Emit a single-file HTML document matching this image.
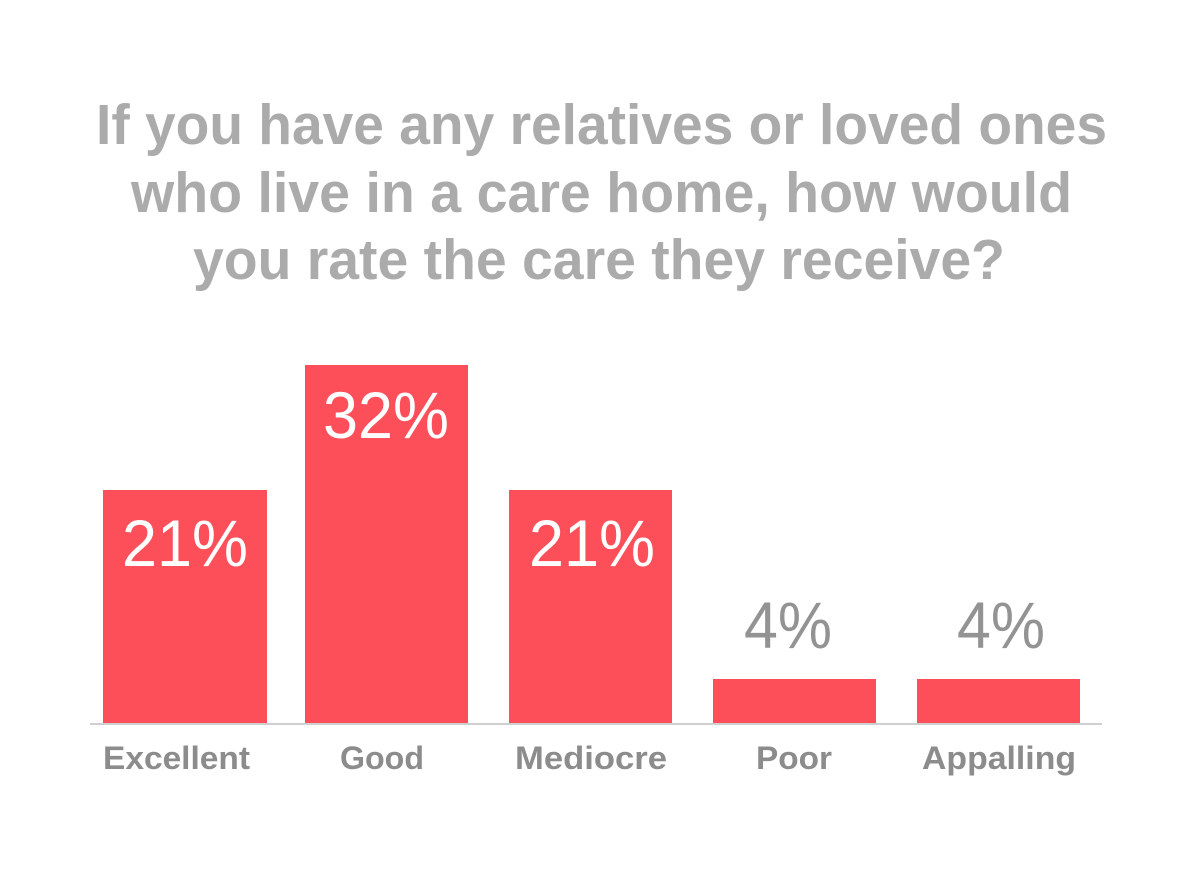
<!DOCTYPE html>
<html><head><meta charset="utf-8"><style>html,body{margin:0;padding:0;background:#fff;}svg{display:block}</style></head>
<body>
<svg width="1200" height="885" viewBox="0 0 1200 885" xmlns="http://www.w3.org/2000/svg">
<rect width="1200" height="885" fill="#fff"/>
<g font-family="Liberation Sans, sans-serif" font-weight="bold" fill="#ababab" font-size="57" text-anchor="start">
<text x="96" y="144" textLength="1011" lengthAdjust="spacingAndGlyphs">If you have any relatives or loved ones</text>
<text x="131" y="212" textLength="941" lengthAdjust="spacingAndGlyphs">who live in a care home, how would</text>
<text x="193" y="279" textLength="812" lengthAdjust="spacingAndGlyphs">you rate the care they receive?</text>
</g>
<g fill="#fd4f5a">
<rect x="103" y="490" width="164" height="233"/>
<rect x="305" y="365" width="163" height="358"/>
<rect x="509" y="490" width="163" height="233"/>
<rect x="713" y="679" width="163" height="44"/>
<rect x="917" y="679" width="163" height="44"/>
</g>
<rect x="90" y="723" width="1012" height="2" fill="#cfcfcf"/>
<g font-family="Liberation Sans, sans-serif" font-size="66" fill="#fff">
<text x="122" y="566" textLength="126" lengthAdjust="spacingAndGlyphs">21%</text>
<text x="323" y="438" textLength="126" lengthAdjust="spacingAndGlyphs">32%</text>
<text x="529" y="566" textLength="126" lengthAdjust="spacingAndGlyphs">21%</text>
<text x="744" y="648" textLength="88" lengthAdjust="spacingAndGlyphs" fill="#939393">4%</text>
<text x="957" y="648" textLength="88" lengthAdjust="spacingAndGlyphs" fill="#939393">4%</text>
</g>
<g font-family="Liberation Sans, sans-serif" font-weight="bold" font-size="32" fill="#8c8c8c">
<text x="103" y="769" textLength="147" lengthAdjust="spacingAndGlyphs">Excellent</text>
<text x="340" y="769" textLength="84" lengthAdjust="spacingAndGlyphs">Good</text>
<text x="515" y="769" textLength="152" lengthAdjust="spacingAndGlyphs">Mediocre</text>
<text x="756" y="769" textLength="76" lengthAdjust="spacingAndGlyphs">Poor</text>
<text x="922" y="769" textLength="154" lengthAdjust="spacingAndGlyphs">Appalling</text>
</g>
</svg>
</body></html>
